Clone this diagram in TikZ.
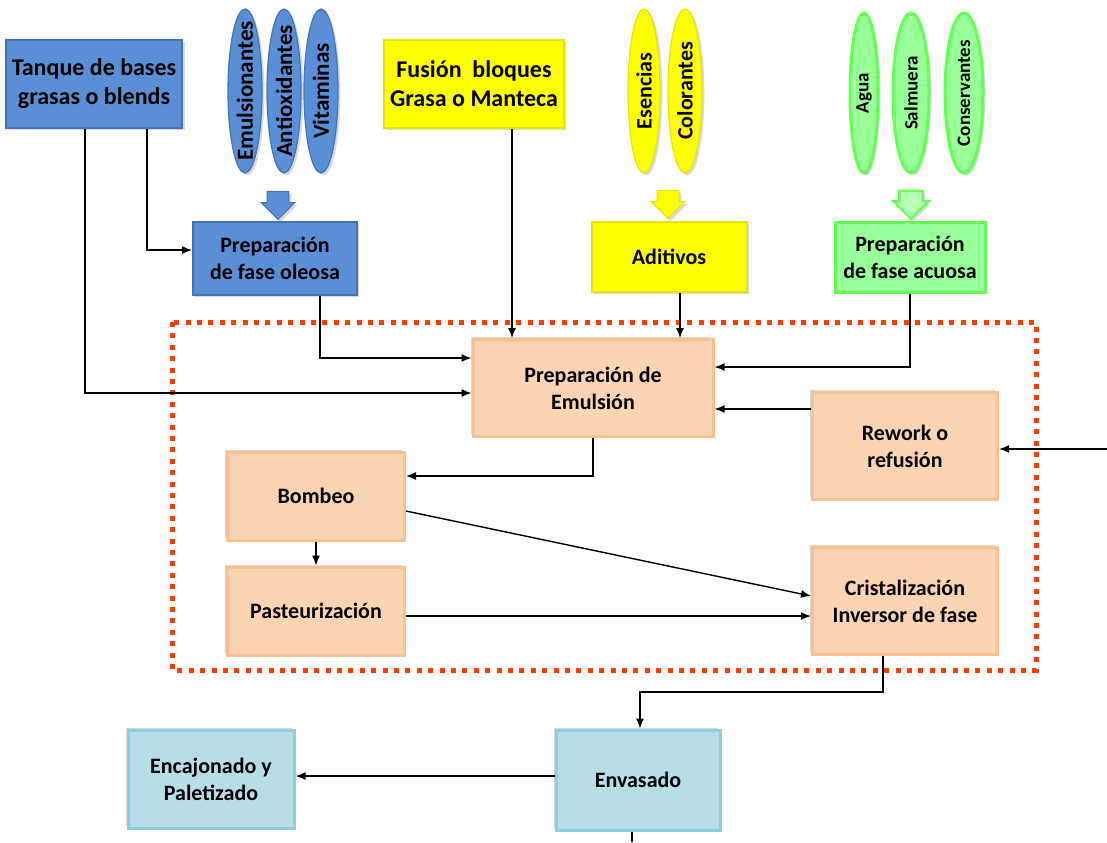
\documentclass[tikz,border=0pt]{standalone}
\usepackage{fontspec}
\setmainfont{Carlito}
\usetikzlibrary{positioning,calc,shapes.geometric,shapes.arrows,arrows.meta,shadows}
\definecolor{OilBlue}{HTML}{5A8FD6}
\definecolor{OilEdge}{HTML}{4273B8}
\definecolor{Lemon}{HTML}{FFFF00}
\definecolor{LemonEdge}{HTML}{E6E600}
\definecolor{Leaf}{HTML}{99FF99}
\definecolor{LeafPale}{HTML}{B8FFB8}
\definecolor{LeafEdge}{HTML}{66FF55}
\definecolor{Peach}{HTML}{FBD4B4}
\definecolor{PeachEdge}{HTML}{FAC090}
\definecolor{Sky}{HTML}{B7DEE8}
\definecolor{SkyEdge}{HTML}{93CDDD}
\definecolor{Flame}{HTML}{FF3D00}
\tikzset{
  back shadow/.style={drop shadow={shadow xshift=1.2pt,shadow yshift=-1.2pt,opacity=.3}},
  front shadow/.style={drop shadow={shadow xshift=-1.2pt,shadow yshift=1.2pt,opacity=.3}},
  process box/.style={rectangle,align=center,text=black,inner sep=3pt,
    font=\bfseries\fontsize{11}{13.5}\selectfont},
  blue box/.style={process box,fill=OilBlue,draw=OilEdge,line width=1pt,back shadow},
  yellow box/.style={process box,fill=Lemon,draw=LemonEdge,line width=1pt,back shadow},
  green box/.style={process box,fill=Leaf,draw=LeafEdge,line width=1.5pt,back shadow},
  peach box/.style={process box,fill=Peach,draw=PeachEdge,line width=1.5pt,front shadow},
  sky box/.style={process box,fill=Sky,draw=SkyEdge,line width=1.5pt,front shadow},
  oval/.style={ellipse,rotate=90,inner xsep=-12pt,inner ysep=0pt,text=black,
    minimum width=82pt,back shadow},
  blue oval/.style={oval,fill=OilBlue,draw=OilEdge,line width=.6pt,minimum height=17pt,
    font=\bfseries\fontsize{11.5}{13}\selectfont},
  yellow oval/.style={oval,fill=Lemon,draw=LemonEdge,line width=.6pt,minimum height=17pt,
    font=\bfseries\fontsize{11}{13}\selectfont},
  green oval/.style={oval,fill=Leaf,draw=LeafEdge,line width=1.5pt,minimum width=80pt,
    font=\bfseries\fontsize{9.5}{11}\selectfont},
  block arrow/.style={single arrow,shape border rotate=270,inner xsep=5.2pt,inner ysep=0pt,
    minimum height=14pt,minimum width=16.5pt,single arrow head extend=3pt,back shadow},
  flow arrow/.style={-{Latex[length=5pt,width=4pt]},line width=.7pt,draw=black},
  flow line/.style={line width=.7pt,draw=black},
  zone line/.style={draw=Flame,line width=2.5pt,dash pattern=on 2.5pt off 3.2pt}
}
\begin{document}
\begin{tikzpicture}[x=0.5pt,y=-0.5pt]
  \useasboundingbox (0,0) rectangle (1107,842);
  \draw[zone line] (172,322) rectangle (1036,670);

  \node[blue box,minimum width=83pt,minimum height=44pt,font=\bfseries\fontsize{12}{14.5}\selectfont]
    (tanque) at (94,84) {Tanque de bases\\grasas o blends};
  \node[blue oval] (emuls) at (245,91) {Emulsionantes};
  \node[blue oval] (antiox) at (284,91) {Antioxidantes};
  \node[blue oval] (vitam) at (321,91) {Vitaminas};
  \node[block arrow,fill=OilBlue,draw=OilEdge,line width=.5pt] (oleoarrow) at (278,200) {};
  \node[blue box,minimum width=82pt,minimum height=36.5pt] (oleosa) at (275,258)
    {Preparación\\de fase oleosa};

  \node[yellow box,minimum width=82pt,minimum height=44pt,font=\bfseries\fontsize{12}{14.5}\selectfont]
    (fusion) at (474,84) {Fusión\ \ bloques\\Grasa o Manteca};
  \node[yellow oval,minimum height=16pt] (esenc) at (644,91) {Esencias};
  \node[yellow oval] (color) at (685,91) {Colorantes};
  \node[block arrow,fill=Lemon,draw=LemonEdge,line width=.5pt] (aditarrow) at (668,199) {};
  \node[yellow box,minimum width=77.5pt,minimum height=35pt] (aditivos) at (669,257) {Aditivos};

  \node[green oval,minimum height=14pt] (agua) at (864,93) {Agua};
  \node[green oval,minimum height=18pt] (salm) at (911,93) {Salmuera};
  \node[green oval,minimum height=19pt] (conserv) at (964,93) {Conservantes};
  \node[block arrow,fill=LeafPale,draw=LeafEdge,line width=1.2pt] (acuarrow) at (911,199) {};
  \node[green box,minimum width=75pt,minimum height=35pt] (acuosa) at (910,257)
    {Preparación\\de fase acuosa};

  \node[peach box,minimum width=120pt,minimum height=48.5pt] (emulsion) at (593,388)
    {Preparación de\\Emulsión};
  \node[peach box,minimum width=92.5pt,minimum height=53.5pt] (rework) at (905,446)
    {Rework o\\refusión};
  \node[peach box,minimum width=88.5pt,minimum height=44pt] (bombeo) at (316,496) {Bombeo};
  \node[peach box,minimum width=88.5pt,minimum height=44pt] (pasteur) at (316,611)
    {Pasteurización};
  \node[peach box,minimum width=92.5pt,minimum height=53.5pt] (cristal) at (905,601)
    {Cristalización\\Inversor de fase};

  \node[sky box,minimum width=82pt,minimum height=50pt] (envasado) at (638,780) {Envasado};
  \node[sky box,minimum width=83pt,minimum height=49pt] (encajonado) at (211,779)
    {Encajonado y\\Paletizado};

  \coordinate (rework in) at (1107,449);
  \coordinate (pack turn) at (640,692);
  \coordinate (pack out) at (632,842);

  \draw[flow arrow] ([xshift=-4.5pt]tanque.south) |- ([yshift=-2.5pt]emulsion.west);
  \draw[flow arrow] ([xshift=26.5pt]tanque.south) |- ([yshift=4pt]oleosa.west);
  \draw[flow arrow] ([xshift=22.5pt]oleosa.south) |- ([yshift=15pt]emulsion.west);
  \draw[flow arrow] ([xshift=19pt]fusion.south) -- ([xshift=19pt]fusion.south |- emulsion.north);
  \draw[flow arrow] ([xshift=5.5pt]aditivos.south) -- ([xshift=5.5pt]aditivos.south |- emulsion.north);
  \draw[flow arrow] (acuosa.south) |- ([yshift=10.5pt]emulsion.east);
  \draw[flow arrow] ([yshift=18.5pt]rework.west) -- ([yshift=18.5pt]rework.west -| emulsion.east);
  \draw[flow arrow] (rework in) -- (rework in -| rework.east);
  \draw[flow arrow] (emulsion.south) |- ([yshift=10pt]bombeo.east);
  \draw[flow arrow] (bombeo.south) -- (pasteur.north);
  \draw[flow arrow] ([yshift=-7.5pt]bombeo.east) -- ([yshift=2.5pt]cristal.west);
  \draw[flow arrow] ([yshift=-2.5pt]pasteur.east) -- ([yshift=-2.5pt]pasteur.east -| cristal.west);
  \draw[flow arrow] ([xshift=-11pt]cristal.south) |- (pack turn) -- (pack turn |- envasado.north);
  \draw[flow arrow] ([yshift=2pt]envasado.west) -- ([yshift=2pt]envasado.west -| encajonado.east);
  \draw[flow line] ([xshift=-3pt]envasado.south) -- ([xshift=-3pt]envasado.south |- pack out);
\end{tikzpicture}
\end{document}
